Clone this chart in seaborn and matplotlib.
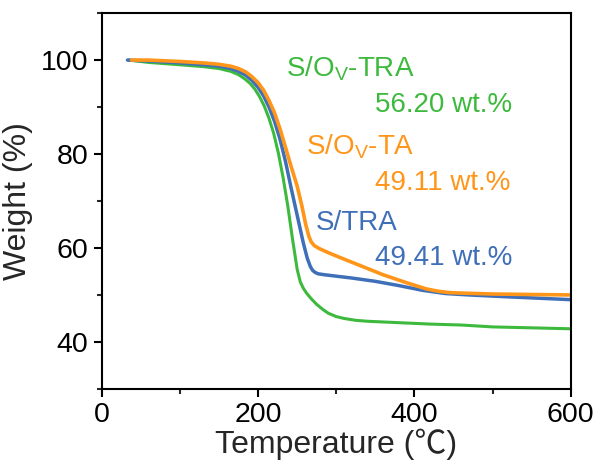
import numpy as np
import pandas as pd
import matplotlib
matplotlib.use("Agg")
import matplotlib.pyplot as plt
from matplotlib.ticker import MultipleLocator
import seaborn as sns

# TGA curves
temp_tra_ov = [35, 60, 100, 130, 150, 165, 175, 183, 190, 196, 202, 208, 214, 220, 226, 232,
               238, 244, 250, 254, 258, 262, 268, 275, 283, 290, 300, 310, 325, 340, 380, 420,
               460, 500, 550, 600]
wt_tra_ov = [100, 99.5, 99.0, 98.6, 98.2, 97.6, 96.9, 96.0, 95.0, 93.8, 92.2, 90.2, 87.6, 84.4,
             80.2, 75.0, 69.0, 62.0, 55.5, 52.8, 51.4, 50.4, 49.2, 48.0, 46.9, 46.1, 45.4, 45.0,
             44.6, 44.4, 44.1, 43.8, 43.6, 43.2, 43.0, 42.8]

temp_tra = [33, 60, 100, 130, 150, 165, 175, 184, 192, 200, 207, 214, 221, 228, 235, 242,
            250, 258, 263, 267, 270, 273, 277, 285, 300, 320, 350, 380, 410, 440, 470, 520,
            560, 600]
wt_tra = [100, 99.8, 99.4, 99.0, 98.7, 98.2, 97.6, 96.8, 95.7, 94.2, 92.4, 90.0, 87.0, 83.2,
          78.5, 73.0, 67.0, 61.0, 57.8, 56.0, 55.2, 54.8, 54.5, 54.3, 54.0, 53.6, 52.9, 52.0,
          51.0, 50.3, 50.0, 49.6, 49.3, 49.0]

temp_ta_ov = [38, 60, 100, 130, 150, 165, 175, 184, 192, 200, 207, 214, 221, 228, 235, 242,
              250, 256, 261, 265, 268, 272, 278, 290, 300, 330, 360, 390, 415, 430, 445, 460,
              500, 550, 600]
wt_ta_ov = [100, 100, 99.7, 99.4, 99.1, 98.7, 98.2, 97.5, 96.5, 95.2, 93.6, 91.4, 88.8, 85.4,
            81.5, 77.5, 73.2, 69.0, 65.0, 62.5, 61.3, 60.5, 59.9, 59.0, 58.3, 56.3, 54.3, 52.6,
            51.3, 50.8, 50.5, 50.4, 50.2, 50.1, 50.0]

names = ["S/O$_{V}$-TRA", "S/TRA", "S/O$_{V}$-TA"]
loadings = ["56.20 wt.%", "49.41 wt.%", "49.11 wt.%"]
colors = ["#3dba3d", "#3f6fb8", "#ff961a"]

df = pd.concat([
    pd.DataFrame({"T": temp_tra_ov, "W": wt_tra_ov, "s": names[0]}),
    pd.DataFrame({"T": temp_tra, "W": wt_tra, "s": names[1]}),
    pd.DataFrame({"T": temp_ta_ov, "W": wt_ta_ov, "s": names[2]}),
], ignore_index=True)

sns.set_theme(style="ticks")
plt.rcParams["font.family"] = ["Liberation Sans", "Noto Sans CJK SC", "DejaVu Sans"]
plt.rcParams["mathtext.default"] = "regular"

fig = plt.figure(figsize=(6.02, 4.68), dpi=100)
ax = fig.add_axes([0.169, 0.169, 0.779, 0.803])

lws = [2.2, 2.5, 2.6]
for name, c, lw in zip(names, colors, lws):
    sub = df[df["s"] == name]
    sns.lineplot(data=sub, x="T", y="W", color=c, lw=lw, ax=ax, sort=False,
                 solid_joinstyle="round", solid_capstyle="round")

ax.set_xlim(0, 600)
ax.set_ylim(30, 110)
ax.set_xticks([0, 200, 400, 600])
ax.set_yticks([40, 60, 80, 100])
ax.xaxis.set_minor_locator(MultipleLocator(100))
ax.yaxis.set_minor_locator(MultipleLocator(10))
ax.tick_params(which="major", direction="out", length=6, width=1.5, labelsize=20.5, colors="black")
ax.tick_params(which="minor", direction="out", length=3.5, width=1.5)
for sp in ax.spines.values():
    sp.set_linewidth(1.5)
    sp.set_color("black")

ax.set_xlabel("Temperature (℃)", fontsize=23, labelpad=0)
ax.set_ylabel("Weight (%)", fontsize=23, labelpad=6)

# annotations
ax.text(236, 98.2, names[0], color=colors[0], fontsize=20, va="center")
ax.text(349, 90.4, loadings[0], color=colors[0], fontsize=20, va="center")
ax.text(261, 81.6, names[2], color=colors[2], fontsize=20, va="center")
ax.text(349, 73.8, loadings[2], color=colors[2], fontsize=20, va="center")
ax.text(274, 65.4, names[1], color=colors[1], fontsize=20, va="center")
ax.text(349, 57.9, loadings[1], color=colors[1], fontsize=20, va="center")

fig.savefig("out.png", dpi=100)
